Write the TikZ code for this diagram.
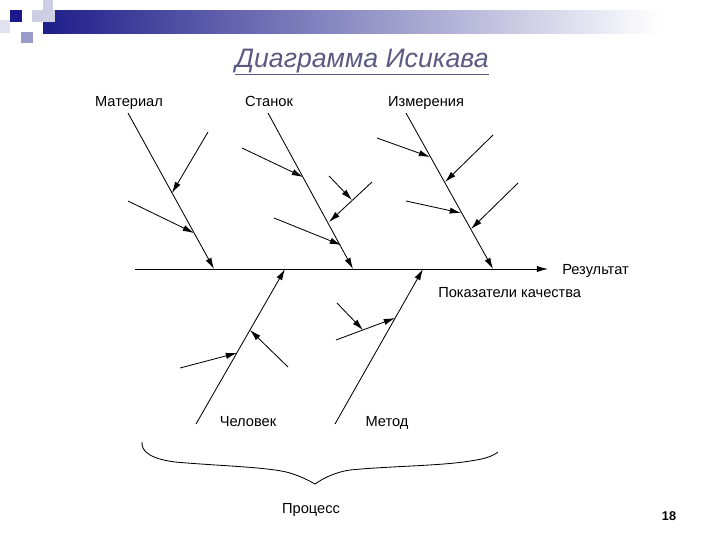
\documentclass[tikz,border=0pt]{standalone}
\usepackage{fontspec}
\setmainfont{Liberation Sans}
\usetikzlibrary{arrows.meta}

\begin{document}
\begin{tikzpicture}[x=0.025cm, y=-0.025cm, >={Latex[length=8pt,width=4.5pt]}]
    % Define colours
    \definecolor{barColour}{HTML}{1E1E8A}
    \definecolor{squareDark}{HTML}{1A1A8C}
    \definecolor{squareMid}{HTML}{9A9AC8}
    \definecolor{squareLight}{HTML}{CDCDE4}
    \definecolor{titleColour}{HTML}{5A5A82}

    % Define styles
    \tikzset{
        bone/.style={->, line width=0.6pt},
        boneLabel/.style={anchor=base, inner sep=0pt, font=\fontsize{10.4}{12}\selectfont},
    }

    % Fix page size
    \useasboundingbox (0,0) rectangle (720,540);

    % Draw header bar and squares
    \shade[left color=barColour, right color=white] (43,10) rectangle (660,33);
    \fill[squareLight!60] (0,20) rectangle (10,33);
    \fill[squareLight] (43,0) rectangle (53,20);
    \fill[squareLight] (32,10) rectangle (55,22);
    \fill[squareDark] (10,10) rectangle (22,22);
    \fill[squareMid] (21,32) rectangle (33,43);

    % Title
    \node[anchor=base, inner sep=0pt, text=titleColour, font=\fontsize{19}{22}\selectfont\itshape] (title) at (362,67) {\underline{Диаграмма Исикава}};

    % Labels
    \node[boneLabel] (material) at (129,106) {Материал};
    \node[boneLabel] (stanok) at (269,106) {Станок};
    \node[boneLabel] (izmer) at (426,106) {Измерения};
    \node[boneLabel, anchor=base west] (result) at (562,274) {Результат};
    \node[boneLabel, anchor=base west] (quality) at (438,297) {Показатели качества};
    \node[boneLabel] (chelovek) at (248,426) {Человек};
    \node[boneLabel] (metod) at (387,426) {Метод};
    \node[boneLabel] (process) at (311,513) {Процесс};
    \node[anchor=base, inner sep=0pt, font=\fontsize{9}{10}\selectfont\bfseries] (page) at (669,520) {18};

    % Define coordinates of the spine
    \coordinate (tail) at (135,269);
    \coordinate (head) at (548,269);
    \coordinate (M) at (214,269);
    \coordinate (S) at (353,269);
    \coordinate (I) at (493,269);
    \coordinate (C) at (285,269);
    \coordinate (T) at (423,269);

    % Draw the spine
    \draw[bone] (tail) -- (head);

    % Material
    \coordinate (M0) at (128,113);
    \coordinate (M1) at (172,193);
    \coordinate (M2) at (194,233);
    \draw[bone] (M0) -- (M);
    \draw[bone] (208,132) -- (M1);
    \draw[bone] (128,201) -- (M2);

    % Stanok
    \coordinate (S0) at (268,113);
    \coordinate (S1) at (303,177);
    \coordinate (S2) at (329,222);
    \coordinate (S3) at (341,245);
    \coordinate (S4) at (352,200);
    \draw[bone] (S0) -- (S);
    \draw[bone] (242,148) -- (S1);
    \draw[bone] (372,182) -- (S2);
    \draw[bone] (329,176) -- (S4);
    \draw[bone] (274,218) -- (S3);

    % Izmereniya
    \coordinate (I0) at (406,113);
    \coordinate (I1) at (430,157);
    \coordinate (I2) at (445,182);
    \coordinate (I3) at (461,213);
    \coordinate (I4) at (471,229);
    \draw[bone] (I0) -- (I);
    \draw[bone] (377,138) -- (I1);
    \draw[bone] (493,135) -- (I2);
    \draw[bone] (406,201) -- (I3);
    \draw[bone] (518,183) -- (I4);

    % Chelovek
    \coordinate (C0) at (196,424);
    \coordinate (C1) at (237,353);
    \coordinate (C2) at (250,330);
    \draw[bone] (C0) -- (C);
    \draw[bone] (180,368) -- (C1);
    \draw[bone] (288,367) -- (C2);

    % Metod
    \coordinate (T0) at (335,424);
    \coordinate (T1) at (395,318);
    \coordinate (T2) at (363,330);
    \draw[bone] (T0) -- (T);
    \draw[bone] (336,340) -- (T1);
    \draw[bone] (337,303) -- (T2);

    % Draw the brace
    \draw[line width=0.6pt] (142,442) .. controls (141,452) and (152,459) .. (175,462)
        .. controls (220,466) and (270,467) .. (290,473)
        .. controls (300,476) and (310,481) .. (315,484)
        .. controls (322,479) and (335,472) .. (350,470)
        .. controls (390,466) and (440,466) .. (470,461)
        .. controls (485,459) and (493,456) .. (498,452);
\end{tikzpicture}
\end{document}
